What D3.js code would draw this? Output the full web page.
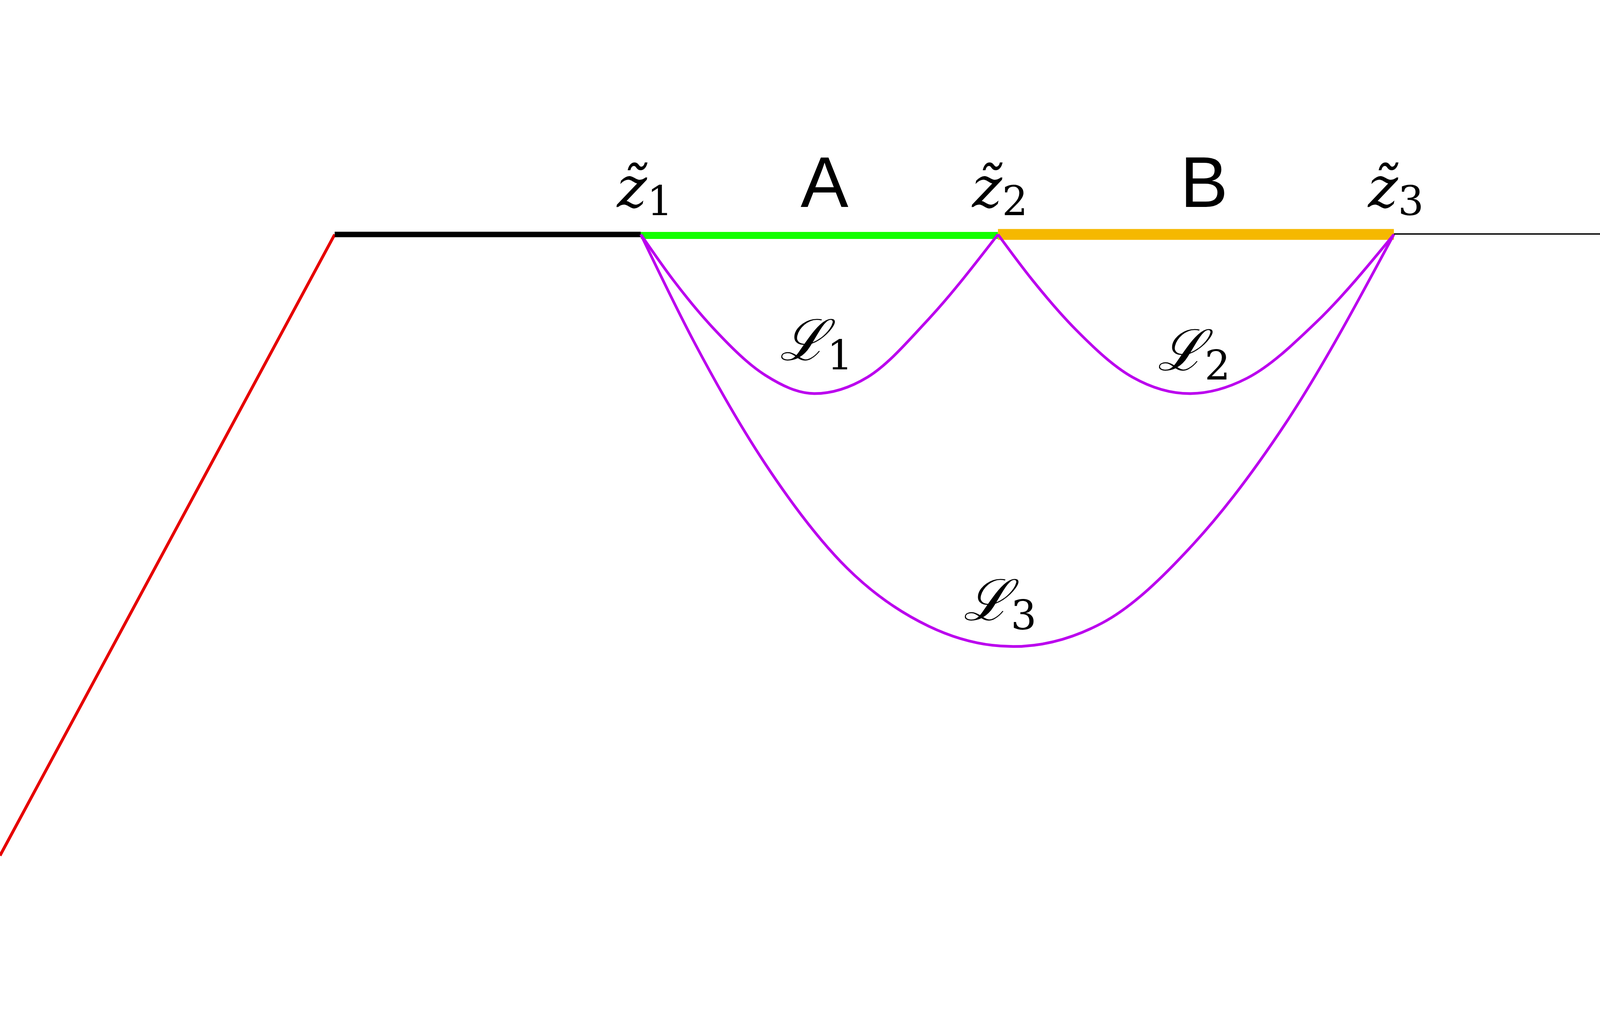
<!DOCTYPE html>
<html>
<head>
<meta charset="utf-8">
<script src="https://cdn.jsdelivr.net/npm/d3@7.9.0/dist/d3.min.js"></script>
<style>
  html, body { margin: 0; padding: 0; background: #fff; overflow: hidden; }
  svg { display: block; width: 100vw; height: 100vh; }
</style>
</head>
<body>
<svg id="chart"></svg>
<script>
// points (in 1568-wide reference units)
const redEdge = [[0, 686], [328, 77]];
const segments = [
  { name: 'left',  from: 328,  to: 628,  y: 77, color: '#000000', width: 20 },
  { name: 'A',     from: 628,  to: 978,  y: 78, color: '#11ff00', width: 26 },
  { name: 'B',     from: 978,  to: 1366, y: 77, color: '#f5b800', width: 40 },
  { name: 'right', from: 1366, to: 1568, y: 76.5, color: '#000000', width: 5 }
];
const curveL1 = [[628, 77], [660, 122], [700, 170], [750, 215], [798, 233], [850, 217], [910, 160], [978, 77]];
const curveL2 = [[978, 77], [1012, 122], [1054, 170], [1110, 217], [1166, 233], [1222, 218], [1290, 163], [1366, 77]];
const curveL3 = [[628, 77], [680, 182], [750, 302], [830, 404], [910, 461], [993, 481], [1080, 458], [1170, 380], [1260, 262], [1366, 77]];
const zLabels = [{ x: 632, sub: '1' }, { x: 980, sub: '2' }, { x: 1368, sub: '3' }];
const segLabels = [{ x: 808, text: 'A' }, { x: 1180, text: 'B' }];
const lLabels = [{ x: 800, y: 200, sub: '1' }, { x: 1170, y: 210, sub: '2' }, { x: 980, y: 455, sub: '3' }];

const W = 5915, H = 2597;
const x = d3.scaleLinear().domain([0, 1568]).range([0, W]);
const y = d3.scaleLinear().domain([0, 1568 * H / W]).range([0, H]);

const svg = d3.select('#chart').attr('viewBox', `0 0 ${W} ${H}`);

const line = d3.line().x(d => x(d[0])).y(d => y(d[1]));
const smooth = d3.line().x(d => x(d[0])).y(d => y(d[1])).curve(d3.curveMonotoneX);

svg.append('path').attr('d', line(redEdge))
  .attr('stroke', '#e60000').attr('stroke-width', 11).attr('fill', 'none');

svg.selectAll('.seg').data(segments).join('line')
  .attr('x1', d => x(d.from)).attr('x2', d => x(d.to))
  .attr('y1', d => y(d.y)).attr('y2', d => y(d.y))
  .attr('stroke', d => d.color).attr('stroke-width', d => d.width);

[curveL1, curveL2, curveL3].forEach(c => {
  svg.append('path').attr('d', smooth(c))
    .attr('stroke', '#bb00ee').attr('stroke-width', 10).attr('fill', 'none');
});

// z tilde labels
zLabels.forEach(d => {
  const t = svg.append('text').attr('x', x(d.x)).attr('y', y(50))
    .attr('font-family', 'DejaVu Serif').attr('font-size', 210).attr('fill', '#000')
    .attr('text-anchor', 'middle');
  t.append('tspan').attr('font-style', 'italic').text('z\u0303');
  t.append('tspan').attr('font-size', 150).attr('dy', 30).text(d.sub);
});

svg.selectAll('.seglab').data(segLabels).join('text')
  .attr('x', d => x(d.x)).attr('y', y(50))
  .attr('font-family', 'Liberation Sans').attr('font-size', 265)
  .attr('text-anchor', 'middle').attr('fill', '#000').text(d => d.text);

lLabels.forEach(d => {
  const t = svg.append('text').attr('x', x(d.x)).attr('y', y(d.y))
    .attr('font-family', 'DejaVu Serif').attr('font-size', 210).attr('fill', '#000')
    .attr('text-anchor', 'middle');
  t.append('tspan').attr('font-style', 'italic').text('\u2112');
  t.append('tspan').attr('font-size', 150).attr('dy', 35).text(d.sub);
});
</script>
</body>
</html>
